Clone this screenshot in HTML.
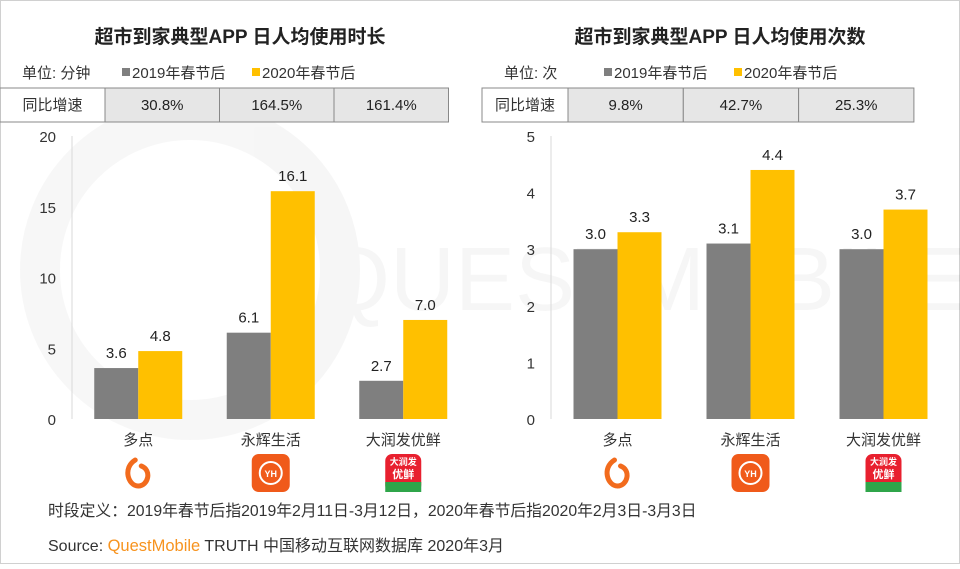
<!DOCTYPE html>
<html><head><meta charset="utf-8"><style>
body{margin:0;width:960px;height:564px;overflow:hidden;background:#fff;font-family:"Liberation Sans","Noto Sans CJK SC",sans-serif;}
svg text{font-family:"Liberation Sans","Noto Sans CJK SC",sans-serif;}
</style></head><body>
<svg width="960" height="564" viewBox="0 0 960 564">
<rect x="0.5" y="0.5" width="959" height="563" fill="#fff" stroke="#d0d0d0"/>
<g opacity="0.03">
<circle cx="190" cy="270" r="150" fill="none" stroke="#000" stroke-width="40"/>
<text x="320" y="310" font-size="90" fill="#000">QUESTMOBILE</text>
</g>
<g id="root"></g>
<text x="48" y="516" font-size="15.8" fill="#333">时段定义：2019年春节后指2019年2月11日-3月12日，2020年春节后指2020年2月3日-3月3日</text>
<text x="48" y="551" font-size="16" fill="#333">Source:  <tspan fill="#f7931e" font-size="16.5">QuestMobile</tspan> TRUTH 中国移动互联网数据库 2020年3月</text>
</svg>
<script>
const categories=["多点","永辉生活","大润发优鲜"];
const durationPrev=[3.6,6.1,2.7];
const durationCurr=[4.8,16.1,7.0];
const durationGrowth=["30.8%","164.5%","161.4%"];
const durationTicks=[0,5,10,15,20];
const countPrev=[3.0,3.1,3.0];
const countCurr=[3.3,4.4,3.7];
const countGrowth=["9.8%","42.7%","25.3%"];
const countTicks=[0,1,2,3,4,5];
const NS="http://www.w3.org/2000/svg";
const root=document.getElementById('root');
function mk(t,a,txt,p){const e=document.createElementNS(NS,t);for(const k in a)e.setAttribute(k,a[k]);if(txt!==undefined)e.textContent=txt;(p||root).appendChild(e);return e;}
function chart(o){
 const g=mk('g',{});
 
 
 const t=mk('text',{x:o.titleX,y:43,'font-size':19,'font-weight':'bold','text-anchor':'middle',fill:'#222'},o.title,g);
 
 
 const u=mk('text',{x:o.tableX+22,y:78,'font-size':15,fill:'#333'},o.unit,g);
 
 
 [[o.legX,'#7f7f7f','2019年春节后'],[o.legX+130,'#ffc000','2020年春节后']].forEach(l=>{
  const lg=mk('g',{},undefined,g);
  
  
  mk('rect',{x:l[0],y:68,width:8,height:8,fill:l[1]},undefined,lg);
  mk('text',{x:l[0]+10,y:78,'font-size':15,fill:'#333'},l[2],lg);
 });
 const tb=mk('g',{},undefined,g);
 
 
 mk('rect',{x:o.tableX,y:88,width:o.labW,height:34,fill:'#fff',stroke:'#888'},undefined,tb);
 mk('text',{x:o.tableX+o.labW/2,y:110,'font-size':15,'text-anchor':'middle',fill:'#333'},'同比增速',tb);
 o.growth.forEach((v,i)=>{
  const cx=o.tableX+o.labW+i*o.cellW;
  mk('rect',{x:cx,y:88,width:o.cellW,height:34,fill:'#e6e6e6',stroke:'#888'},undefined,tb);
  const c=mk('text',{x:cx+o.cellW/2,y:110,'font-size':15,'text-anchor':'middle',fill:'#222'},v,tb);
  
  
 });
 const y0=419,y1=136,max=o.ticks[o.ticks.length-1];
 const Y=v=>y0-(v/max)*(y0-y1);
 const X=i=>o.x0+o.step*(i+0.5);
 mk('line',{x1:o.x0,y1:y1,x2:o.x0,y2:y0,stroke:'#d9d9d9'},undefined,g);
 o.ticks.forEach(t=>{
  const e=mk('text',{x:o.x0-16,y:Y(t)+6,'font-size':15,'text-anchor':'end',fill:'#333'},String(t),g);
  
  
 });
 categories.forEach((c,i)=>{
  [[o.prev[i],'#7f7f7f',-44],[o.curr[i],'#ffc000',0]].forEach((b,j)=>{
   const r=mk('rect',{x:X(i)+b[2],y:Y(b[0]),width:44,height:y0-Y(b[0]),fill:b[1]},undefined,g);
   
   
   const l=mk('text',{x:X(i)+b[2]+22,y:Y(b[0])-10,'font-size':15,'text-anchor':'middle',fill:'#222'},b[0].toFixed(1),g);
   
   
  });
  const cl=mk('text',{x:X(i),y:445,'font-size':15,'text-anchor':'middle',fill:'#333'},c,g);
  
  
  const ic=mk('g',{},undefined,g);
  
  
  if(i===0){mk('path',{d:`M${X(i)-3} 460 C${X(i)-16} 468 ${X(i)-10} 486 ${X(i)} 486 C${X(i)+10} 486 ${X(i)+14} 470 ${X(i)+3} 466`,fill:'none',stroke:'#f26b1d','stroke-width':5,'stroke-linecap':'round'},undefined,ic);}
  else if(i===1){mk('rect',{x:X(i)-19,y:454,width:38,height:38,rx:7,fill:'#f05a1a'},undefined,ic);mk('circle',{cx:X(i),cy:473,r:11,fill:'none',stroke:'#fff','stroke-width':2},undefined,ic);mk('text',{x:X(i),y:477,'font-size':9,'font-weight':'bold','text-anchor':'middle',fill:'#fff'},'YH',ic);}
  else{mk('rect',{x:X(i)-18,y:454,width:36,height:38,rx:7,fill:'#e8202f'},undefined,ic);mk('rect',{x:X(i)-18,y:482,width:36,height:10,fill:'#2fa54a'},undefined,ic);mk('text',{x:X(i),y:465,'font-size':9,'font-weight':'bold','text-anchor':'middle',fill:'#fff'},'大润发',ic);mk('text',{x:X(i),y:478,'font-size':11,'font-weight':'bold','text-anchor':'middle',fill:'#fff'},'优鲜',ic);}
 });
}
chart({name:'duration-chart',title:'超市到家典型APP 日人均使用时长',titleX:240,unit:'单位: 分钟',legX:122,tableX:0,labW:105,cellW:114.5,growth:durationGrowth,ticks:durationTicks,prev:durationPrev,curr:durationCurr,x0:72,step:132.5});
chart({name:'count-chart',title:'超市到家典型APP 日人均使用次数',titleX:720,unit:'单位: 次',legX:604,tableX:482,labW:86,cellW:115.3,growth:countGrowth,ticks:countTicks,prev:countPrev,curr:countCurr,x0:551,step:133});
</script>
</body></html>
